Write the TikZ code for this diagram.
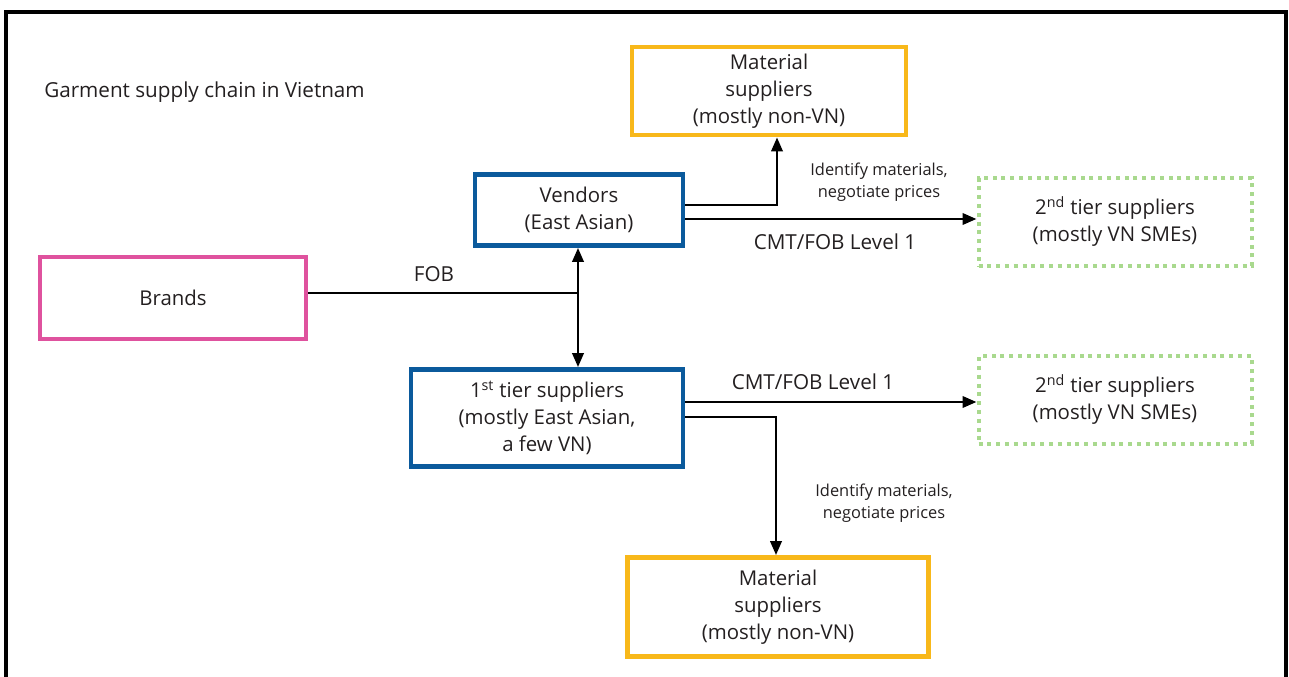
\documentclass[tikz,border=0pt]{standalone}
\usepackage{fontspec}
\setmainfont{Open Sans}
\usetikzlibrary{arrows.meta}
\definecolor{yel}{HTML}{F8B81A}
\definecolor{blu}{HTML}{0B5A9C}
\definecolor{pnk}{HTML}{DF529E}
\definecolor{grn}{HTML}{A9D98E}
\definecolor{txt}{HTML}{231F20}
\begin{document}
\begin{tikzpicture}[x=0.75pt,y=-0.75pt,
  box/.style={line width=3.6pt, align=center, inner sep=0pt, text=txt,
    font=\fontsize{15.3}{20.3}\selectfont},
  dotbox/.style={box, draw=grn, line width=3pt, dash pattern=on 3pt off 3.6pt},
  lbl/.style={text=txt, font=\fontsize{15.5}{20}\selectfont, inner sep=0pt},
  slbl/.style={text=txt, font=\fontsize{12.3}{16.5}\selectfont, inner sep=0pt, align=center},
  tip/.style={Triangle[length=10.5pt,width=8.5pt]},
  conn/.style={line width=2pt, -{Triangle[length=10.5pt,width=8.5pt]}},
  dconn/.style={line width=2pt, {Triangle[length=10.5pt,width=8.5pt]}-{Triangle[length=10.5pt,width=8.5pt]}},
  plain/.style={line width=2pt}
]
\useasboundingbox (0,0) rectangle (1289,677);
\draw[line width=2.4pt] (6,700) -- (6,12) -- (1286,12) -- (1286,700);

\node[lbl, anchor=west] (title) at (44,92) {Garment supply chain in Vietnam};

\node[box, draw=yel, minimum width=274*0.75pt, minimum height=88*0.75pt] (mat1) at (769,91)
  {Material\\suppliers\\(mostly non-VN)};
\node[box, draw=blu, minimum width=208*0.75pt, minimum height=71*0.75pt] (vend) at (579,210)
  {Vendors\\(East Asian)};
\node[dotbox, minimum width=273*0.75pt, minimum height=88*0.75pt] (sec1) at (1115,222)
  {2\textsuperscript{nd} tier suppliers\\(mostly VN SMEs)};
\node[box, draw=pnk, minimum width=266*0.75pt, minimum height=82*0.75pt] (brand) at (173,298)
  {Brands};
\node[box, draw=blu, minimum width=272*0.75pt, minimum height=97*0.75pt] (tier1) at (547,418)
  {1\textsuperscript{st} tier suppliers\\(mostly East Asian,\\a few VN)};
\node[dotbox, minimum width=273*0.75pt, minimum height=87*0.75pt] (sec2) at (1115,400)
  {2\textsuperscript{nd} tier suppliers\\(mostly VN SMEs)};
\node[box, draw=yel, minimum width=301*0.75pt, minimum height=99*0.75pt] (mat2) at (778,607)
  {Material\\suppliers\\(mostly non-VN)};

\coordinate (vup) at (777,137);
\coordinate (vmid) at (578,293);
\coordinate (tdown) at (776,554);

% vendors connectors
\draw[conn] ([yshift=3.75pt]vend.east) coordinate (va) -| (mat1.south -| vup);
\draw[conn] ([yshift=-6.75pt]vend.east) coordinate (vb) -- (vb -| sec1.west);
% brands to vendors/tier1
\draw[plain] (brand.east |- vmid) -- (vmid);
\draw[dconn] (vend.south -| vmid) -- (tier1.north -| vmid);
% tier1 connectors
\draw[conn] ([yshift=12pt]tier1.east) coordinate (ta) -- (ta -| sec2.west);
\draw[conn] ([yshift=0.75pt]tier1.east) coordinate (tb) -| (mat2.north -| tdown);

\node[slbl] (lab1) at (879,182) {Identify materials,\\negotiate prices};
\node[lbl] (cmt1) at (835,242) {CMT/FOB Level 1};
\node[lbl] (fob) at (434,274) {FOB};
\node[lbl] (cmt2) at (813,382) {CMT/FOB Level 1};
\node[slbl] (lab2) at (884,503) {Identify materials,\\negotiate prices};
\end{tikzpicture}
\end{document}
